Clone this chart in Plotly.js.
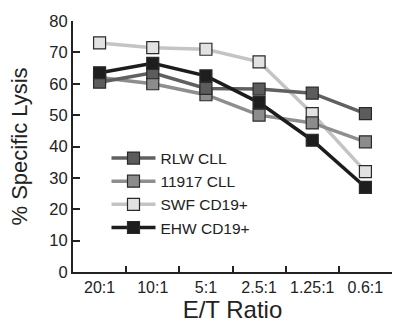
<!DOCTYPE html>
<html>
<head>
<meta charset="utf-8">
<script src="https://cdn.plot.ly/plotly-3.0.1.min.js"></script>
<style>html,body{margin:0;padding:0;background:#fff;}#chart{width:393px;height:323px;}</style>
</head>
<body>
<div id="chart"></div>
<script>
const ratios = ["20:1", "10:1", "5:1", "2.5:1", "1.25:1", "0.6:1"];
const seriesNames = ["RLW CLL", "11917 CLL", "SWF CD19+", "EHW CD19+"];
const rlwCLL = [60.5, 63.5, 58.5, 58.3, 57, 50.5];
const cll11917 = [62, 60, 56.5, 50, 47.5, 41.5];
const swfCD19 = [73, 71.5, 71, 67, 50.5, 32];
const ehwCD19 = [63.5, 66.5, 62.5, 54, 42, 27];
const yTickVals = [0, 10, 20, 30, 40, 50, 60, 70, 80];

const seriesValues = [rlwCLL, cll11917, swfCD19, ehwCD19];
const lineColors = ["#606060", "#8e8e8e", "#c4c4c4", "#1c1c1c"];
const fillColors = ["#5c5c5c", "#8c8c8c", "#e2e2e2", "#1e1e1e"];

const traces = seriesValues.map((vals, i) => ({
  type: "scatter",
  mode: "lines+markers",
  name: seriesNames[i],
  x: ratios,
  y: vals,
  line: {color: lineColors[i], width: 3.5},
  marker: {symbol: "square", size: 12, color: fillColors[i], line: {color: "#2a2a2a", width: 1.2}},
  legendrank: i + 1
}));
// draw order: light lines first so dark ones sit on top as in reference
const order = [2, 1, 0, 3];
const data = order.map(i => traces[i]);

const font = "Liberation Sans, Arial, sans-serif";
const layout = {
  width: 393, height: 323,
  margin: {l: 73, r: 1, t: 21, b: 51},
  paper_bgcolor: "#fff", plot_bgcolor: "#fff",
  font: {family: font, color: "#222", size: 16},
  showlegend: true,
  legend: {
    x: 0.105, y: 0.52, xanchor: "left", yanchor: "top",
    font: {family: font, size: 15.5, color: "#222"},
    bgcolor: "rgba(0,0,0,0)",
    traceorder: "normal",
    itemwidth: 44
  },
  xaxis: {
    type: "category",
    categoryorder: "array", categoryarray: ratios,
    range: [-0.5, 5.5],
    tickson: "boundaries",
    tickangle: 0,
    ticks: "inside", ticklen: 6, tickwidth: 2, tickcolor: "#222",
    showline: true, linecolor: "#222", linewidth: 2,
    showgrid: false, zeroline: false,
    tickfont: {size: 16, family: font, color: "#222"},
    title: {text: "E/T Ratio", font: {size: 24, family: font, color: "#222"}, standoff: 2}
  },
  yaxis: {
    range: [0, 80],
    tickvals: yTickVals,
    ticks: "inside", ticklen: 7, tickwidth: 2, tickcolor: "#222",
    showline: true, linecolor: "#222", linewidth: 2,
    showgrid: false, zeroline: false,
    tickfont: {size: 16.5, family: font, color: "#222"},
    title: {text: "% Specific Lysis", font: {size: 22, family: font, color: "#222"}, standoff: 16}
  }
};

Plotly.newPlot("chart", data, layout, {displayModeBar: false, staticPlot: true});
</script>
</body>
</html>
